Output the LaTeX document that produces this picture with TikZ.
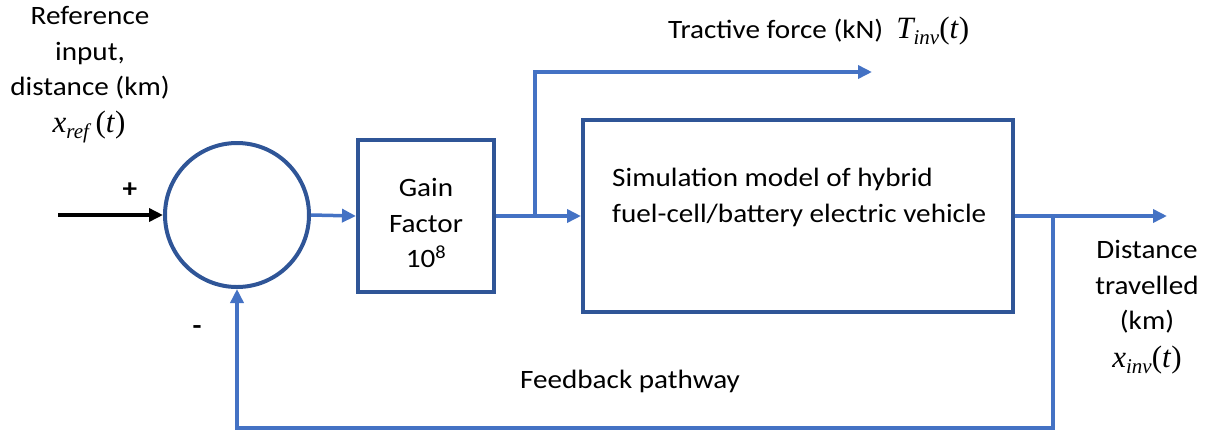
\documentclass[tikz,border=0pt]{standalone}
\usepackage{fontspec}
\setmainfont{Carlito}[FakeStretch=1.1]
\newfontfamily\symfont{Liberation Serif}
\usetikzlibrary{arrows.meta}
\definecolor{boxblue}{HTML}{2F5597}
\definecolor{lineblue}{HTML}{4472C4}
% italic signal names with lowered subscripts
\newcommand{\sig}[2]{{\fontsize{31}{31}\symfont\itshape #1}\raisebox{-6pt}{\fontsize{21}{21}\symfont\itshape #2}}
\newcommand{\argt}{{\fontsize{31}{31}\symfont(\textit{t})}}
\begin{document}
\begin{tikzpicture}[x=1pt,y=-1pt,
  blockbox/.style={draw=boxblue,line width=4pt,rectangle,inner sep=0pt},
  link/.style={draw=lineblue,line width=3.5pt},
  tip/.style={-{Triangle[length=14pt,width=13pt]}},
  lbl/.style={font=\fontsize{26.5}{35.5}\selectfont,align=center,inner sep=0pt}]
\useasboundingbox (0,0) rectangle (1205,432);

% blocks
\node[draw=boxblue,line width=4pt,circle,minimum size=144pt,inner sep=0pt] (sum) at (237,215) {};
\node[blockbox,minimum width=136pt,minimum height=152pt] (gain) at (426,216) {};
\node[lbl] (gaintxt) at (426,223) {Gain\\Factor\\10\textsuperscript{8}};
\node[blockbox,minimum width=430pt,minimum height=192pt] (sim) at (798,216) {};
\node[lbl,align=left,anchor=west] (simtxt) at (612,197.5)
  {Simulation model of hybrid\\fuel-cell/battery electric vehicle};

% helper points
\coordinate (in) at (58,215);
\coordinate (split) at (535,216);
\coordinate (tracup) at (535,72);
\coordinate (tracend) at (872,72);
\coordinate (outend) at (1167,216);
\coordinate (fbsplit) at (1053,216);
\coordinate (fbcorner) at (1053,428);

% connectors
\draw[line width=4pt,black,tip] (in) -- (sum.west);
\draw[link,tip] (sum.east) -- (gain.west);
\draw[link,tip] (gain.east) -- (sim.west);
\draw[link,tip] (split) -- (tracup) -- (tracend);
\draw[link,tip] (sim.east) -- (outend);
\draw[link,tip] (fbsplit) -- (fbcorner) -| (sum.south);

% labels
\node[lbl] (reflbl) at (90,53) {Reference\\input,\\distance (km)};
\node[lbl] (refsig) at (89,127) {\sig{x}{ref}\ \argt};
\node[lbl] (plus) at (130,190) {\textbf{+}};
\node[lbl] (minus) at (197,330) {\textbf{-}};
\node[lbl,anchor=west] (tractive) at (668,31) {Tractive force (kN)\ \ \sig{T}{inv}\argt};
\node[lbl] (distlbl) at (1147,287) {Distance\\travelled\\(km)};
\node[lbl] (distsig) at (1147,360) {\sig{x}{inv}\argt};
\node[lbl] (fblbl) at (630,381) {Feedback pathway};
\end{tikzpicture}
\end{document}
